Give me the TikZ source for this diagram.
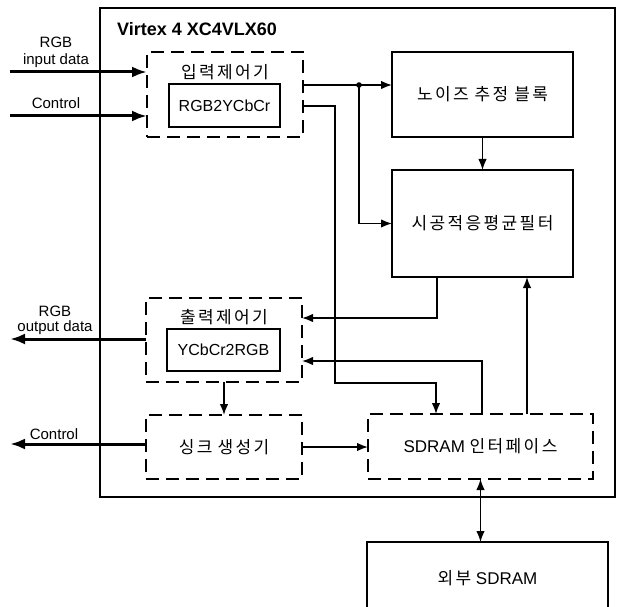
\documentclass[tikz,border=0pt]{standalone}
\usepackage{fontspec}
\setmainfont{Liberation Sans}
\newfontfamily\kr[LetterSpace=14]{Noto Sans CJK KR}
\usetikzlibrary{arrows.meta}
\begin{document}
\begin{tikzpicture}[x=1pt,y=-1pt,
  solidbox/.style={draw, line width=1.5pt, inner sep=0pt, outer sep=0pt},
  innerbox/.style={draw, line width=1.1pt, inner sep=0pt, outer sep=0pt, font=\fontsize{16}{19}\selectfont},
  dashbox/.style={draw, line width=1.8pt, dash pattern=on 13pt off 7pt, inner sep=0pt, outer sep=0pt},
  krlabel/.style={font=\kr\fontsize{17}{20}\selectfont, inner sep=0pt},
  sidelabel/.style={font=\fontsize{15}{18}\selectfont, inner sep=0pt},
  arr/.style={line width=1.5pt, -{Latex[length=11pt,width=8.5pt]}},
  dblarr/.style={line width=1.5pt, {Latex[length=11pt,width=8.5pt]}-{Latex[length=11pt,width=8.5pt]}},
  bigarr/.style={line width=3pt, -{Latex[length=15pt,width=11pt]}}
]
\useasboundingbox (0,0) rectangle (619,607);
% outer chip box
\node[solidbox, minimum width=515pt, minimum height=489pt] (chip) at (357.5,252.5) {};
\node[anchor=west, inner sep=0pt, font=\bfseries\fontsize{18}{21}\selectfont] (title) at (117,29) {Virtex 4 XC4VLX60};

% input controller
\node[dashbox, minimum width=156pt, minimum height=85pt] (inctl) at (225,94.5) {};
\node[krlabel] (inctlt) at (225,72) {입력제어기};
\node[innerbox, minimum width=111pt, minimum height=43pt] (rgb2) at (224.5,105.5) {RGB2YCbCr};

% noise estimation
\node[solidbox, minimum width=181pt, minimum height=85pt, font=\kr\fontsize{17}{20}\selectfont] (noise) at (482.5,94.5) {노이즈\hspace{0.35em}추정\hspace{0.35em}블록};
% filter
\node[solidbox, minimum width=181pt, minimum height=107pt, font=\kr\fontsize{17}{20}\selectfont] (filter) at (482.5,223.5) {시공적응평균필터};

% output controller
\node[dashbox, minimum width=156pt, minimum height=84pt] (outctl) at (224,340) {};
\node[krlabel] (outctlt) at (224,317) {출력제어기};
\node[innerbox, minimum width=113pt, minimum height=42pt] (ycbcr) at (223.5,350) {YCbCr2RGB};

% sync generator
\node[dashbox, minimum width=156pt, minimum height=64pt, font=\kr\fontsize{17}{20}\selectfont] (sync) at (224,447) {싱크\hspace{0.3em}생성기};

% SDRAM interface
\node[dashbox, minimum width=225pt, minimum height=65pt] (sdramif) at (480.5,446.5) {\fontsize{17}{20}\selectfont SDRAM {\kr 인터페이스}};

% external SDRAM
\node[solidbox, minimum width=241pt, minimum height=72pt] (ext) at (487.5,578) {\fontsize{17}{20}\selectfont{\kr 외부} SDRAM};

% side labels
\node[sidelabel] (lrgbin1) at (56,42) {RGB};
\node[sidelabel] (lrgbin2) at (56,61) {input data};
\node[sidelabel] (lctlin) at (56,103) {Control};
\node[sidelabel] (lrgbout1) at (55,311) {RGB};
\node[sidelabel] (lrgbout2) at (55,328) {output data};
\node[sidelabel] (lctlout) at (54,434) {Control};

% free ends
\coordinate (rgbin) at (10,72);
\coordinate (ctlin) at (10,116);
\coordinate (rgbout) at (10,339);
\coordinate (ctlout) at (10,444);
\coordinate (j) at (359,85);
\coordinate (b0) at (335,106);
\coordinate (b1) at (335,383);

% inputs
\draw[bigarr] (rgbin) -- (rgbin -| inctl.west);
\draw[bigarr] (ctlin) -- (ctlin -| inctl.west);
% outputs
\draw[bigarr] (rgbout -| outctl.west) -- (rgbout);
\draw[bigarr] (ctlout -| sync.west) -- (ctlout);

% input controller to noise / filter
\draw[arr] (j -| inctl.east) -- (j) -- (j -| noise.west);
\fill (j) circle (2.8pt);
\draw[arr] (j) |- (filter.west);
% input controller to SDRAM interface
\draw[arr] (b0 -| inctl.east) -- (b0) -- (b1) -| ([xshift=-44.5pt]sdramif.north);
% noise to filter
\draw[arr] (noise.south) -- (filter.north);
% filter to output controller
\draw[arr] ([xshift=-45.5pt]filter.south) |- (outctl.east |- 0,318);
% SDRAM interface to output controller
\draw[arr] ([xshift=1.5pt]sdramif.north) |- (outctl.east |- 0,361);
% SDRAM interface to filter
\draw[arr] ([xshift=46.5pt]sdramif.north) -- ([xshift=44.5pt]filter.south);
% output controller to sync
\draw[arr] (outctl.south) -- (sync.north);
% sync to SDRAM interface
\draw[arr] (sync.east) -- (sync.east -| sdramif.west);
% SDRAM interface <-> external
\draw[dblarr] (sdramif.south) -- (ext.north -| sdramif.south);
\end{tikzpicture}
\end{document}
